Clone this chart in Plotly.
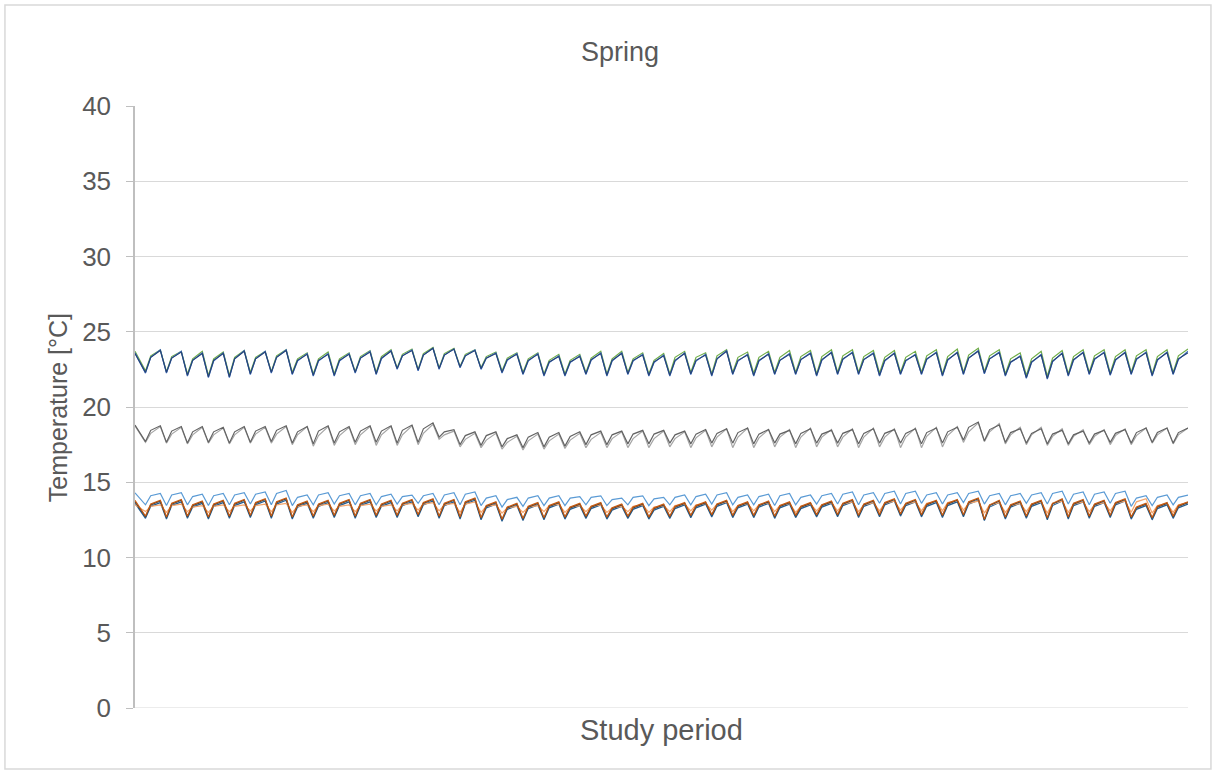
import plotly.graph_objects as go

# ---------------- data ----------------
N_DAYS = 50
# sample times (hours): start sample, then per day: minimum (early morning),
# a mid-day sample, and the maximum (end of day)
start_hour = -5
min_hour = 7
mid_hour = 13
max_hour = 24

top_green_start = 23.7
top_green_min = [22.4, 22.35, 22.2, 22.1, 22.1, 22.3, 22.35, 22.3, 22.2, 22.2,
                 22.35, 22.3, 22.6, 22.5, 22.6, 22.7, 22.6, 22.4, 22.3, 22.2,
                 22.2, 22.3, 22.2, 22.3, 22.2, 22.2, 22.3, 22.2, 22.3, 22.25,
                 22.3, 22.3, 22.2, 22.3, 22.3, 22.25, 22.3, 22.3, 22.2, 22.3,
                 22.35, 22.2, 22.1, 22.05, 22.2, 22.3, 22.25, 22.3, 22.2, 22.3]
top_green_mid = [23.4, 23.35, 23.2, 23.2, 23.3, 23.3, 23.4, 23.2, 23.2, 23.2,
                 23.35, 23.35, 23.5, 23.55, 23.55, 23.5, 23.35, 23.25, 23.2, 23.1,
                 23.1, 23.25, 23.2, 23.2, 23.1, 23.3, 23.3, 23.4, 23.3, 23.3,
                 23.3, 23.35, 23.35, 23.4, 23.35, 23.3, 23.3, 23.4, 23.35, 23.45,
                 23.4, 23.2, 23.2, 23.25, 23.35, 23.4, 23.35, 23.4, 23.35, 23.4]
top_green_max = [23.8, 23.7, 23.7, 23.65, 23.75, 23.7, 23.8, 23.6, 23.65, 23.6,
                 23.75, 23.8, 23.85, 23.95, 23.9, 23.8, 23.65, 23.6, 23.6, 23.5,
                 23.5, 23.7, 23.7, 23.6, 23.55, 23.7, 23.6, 23.8, 23.65, 23.7,
                 23.75, 23.75, 23.8, 23.8, 23.75, 23.75, 23.7, 23.8, 23.85, 23.9,
                 23.8, 23.6, 23.7, 23.75, 23.8, 23.8, 23.8, 23.8, 23.8, 23.85]

top_blue_start = 23.6
top_blue_min = [22.25, 22.25, 22.05, 21.95, 21.95, 22.15, 22.25, 22.15, 22.05, 22.05,
                22.25, 22.15, 22.5, 22.4, 22.5, 22.6, 22.5, 22.25, 22.15, 22.05,
                22.05, 22.15, 22.05, 22.15, 22.05, 22.05, 22.15, 22.05, 22.15, 22.05,
                22.15, 22.15, 22.05, 22.15, 22.15, 22.05, 22.15, 22.15, 22.05, 22.15,
                22.2, 22.05, 21.9, 21.85, 22.05, 22.15, 22.1, 22.15, 22.05, 22.15]
top_blue_mid = [23.3, 23.25, 23.1, 23.05, 23.2, 23.2, 23.3, 23.05, 23.05, 23.05,
                23.25, 23.2, 23.4, 23.45, 23.45, 23.4, 23.25, 23.1, 23.05, 22.95,
                22.95, 23.1, 23.05, 23.05, 22.95, 23.05, 23.05, 23.2, 23.05, 23.05,
                23.1, 23.15, 23.1, 23.15, 23.15, 23.05, 23.05, 23.15, 23.1, 23.25,
                23.2, 22.95, 22.95, 23.0, 23.1, 23.15, 23.1, 23.15, 23.1, 23.15]
top_blue_max = [23.8, 23.7, 23.6, 23.6, 23.75, 23.7, 23.8, 23.55, 23.55, 23.55,
                23.7, 23.75, 23.8, 23.9, 23.85, 23.8, 23.6, 23.55, 23.55, 23.4,
                23.4, 23.6, 23.6, 23.5, 23.45, 23.6, 23.5, 23.75, 23.5, 23.55,
                23.55, 23.6, 23.65, 23.65, 23.6, 23.6, 23.5, 23.65, 23.65, 23.75,
                23.65, 23.4, 23.5, 23.6, 23.65, 23.65, 23.65, 23.65, 23.65, 23.7]

top_navy_start = 23.55
top_navy_min = [22.3, 22.3, 22.1, 22.0, 22.0, 22.2, 22.3, 22.2, 22.1, 22.1,
                22.3, 22.2, 22.55, 22.45, 22.55, 22.65, 22.55, 22.3, 22.2, 22.1,
                22.1, 22.2, 22.1, 22.2, 22.1, 22.1, 22.2, 22.1, 22.2, 22.1,
                22.2, 22.2, 22.1, 22.2, 22.2, 22.1, 22.2, 22.2, 22.1, 22.2,
                22.25, 22.1, 21.95, 21.9, 22.1, 22.2, 22.15, 22.2, 22.1, 22.2]
top_navy_mid = [23.3, 23.25, 23.1, 23.1, 23.2, 23.2, 23.3, 23.1, 23.1, 23.1,
                23.25, 23.25, 23.4, 23.45, 23.45, 23.4, 23.25, 23.15, 23.1, 23.0,
                23.0, 23.15, 23.1, 23.1, 23.0, 23.1, 23.1, 23.2, 23.1, 23.1,
                23.1, 23.15, 23.15, 23.2, 23.15, 23.1, 23.1, 23.2, 23.15, 23.25,
                23.2, 23.0, 23.0, 23.05, 23.15, 23.2, 23.15, 23.2, 23.15, 23.2]
top_navy_max = [23.75, 23.65, 23.55, 23.55, 23.7, 23.65, 23.75, 23.5, 23.5, 23.5,
                23.65, 23.7, 23.75, 23.9, 23.85, 23.75, 23.55, 23.5, 23.5, 23.35,
                23.35, 23.55, 23.55, 23.45, 23.4, 23.55, 23.45, 23.7, 23.45, 23.5,
                23.5, 23.55, 23.6, 23.6, 23.55, 23.55, 23.45, 23.6, 23.6, 23.7,
                23.6, 23.35, 23.45, 23.55, 23.6, 23.6, 23.6, 23.6, 23.6, 23.6]

mid_light_start = 18.75
mid_light_min = [17.65, 17.6, 17.55, 17.6, 17.55, 17.6, 17.6, 17.5, 17.4, 17.45,
                 17.5, 17.45, 17.45, 17.5, 17.85, 17.35, 17.3, 17.2, 17.15, 17.2,
                 17.25, 17.3, 17.3, 17.3, 17.3, 17.35, 17.3, 17.35, 17.3, 17.3,
                 17.35, 17.3, 17.35, 17.35, 17.3, 17.35, 17.3, 17.3, 17.35, 17.65,
                 17.7, 17.55, 17.5, 17.45, 17.45, 17.5, 17.5, 17.5, 17.6, 17.55]
mid_light_mid = [18.25, 18.2, 18.15, 18.15, 18.15, 18.2, 18.2, 18.15, 18.1, 18.1,
                 18.15, 18.15, 18.15, 18.25, 18.15, 17.85, 17.8, 17.65, 17.75, 17.75,
                 17.8, 17.85, 17.9, 17.9, 17.9, 17.9, 17.95, 18.0, 18.0, 17.95,
                 18.0, 18.0, 18.0, 18.0, 18.0, 18.0, 18.0, 18.05, 18.1, 18.35,
                 18.35, 18.15, 18.15, 18.05, 18.05, 18.05, 18.1, 18.1, 18.15, 18.15]
mid_light_max = [18.7, 18.65, 18.65, 18.6, 18.65, 18.65, 18.7, 18.7, 18.7, 18.65,
                 18.7, 18.7, 18.75, 18.85, 18.4, 18.25, 18.25, 18.05, 18.2, 18.2,
                 18.25, 18.3, 18.35, 18.4, 18.4, 18.35, 18.45, 18.55, 18.6, 18.5,
                 18.5, 18.6, 18.5, 18.55, 18.6, 18.55, 18.6, 18.65, 18.7, 18.95,
                 18.9, 18.65, 18.65, 18.55, 18.5, 18.5, 18.55, 18.6, 18.6, 18.6]

mid_dark_start = 18.8
mid_dark_min = [17.7, 17.65, 17.6, 17.65, 17.6, 17.65, 17.7, 17.6, 17.55, 17.6,
                17.65, 17.65, 17.6, 17.65, 18.0, 17.5, 17.45, 17.35, 17.3, 17.35,
                17.4, 17.5, 17.5, 17.55, 17.55, 17.6, 17.55, 17.6, 17.6, 17.55,
                17.6, 17.55, 17.6, 17.6, 17.55, 17.6, 17.6, 17.55, 17.6, 17.8,
                17.75, 17.65, 17.6, 17.55, 17.55, 17.6, 17.65, 17.6, 17.65, 17.6]
mid_dark_mid = [18.45, 18.4, 18.35, 18.35, 18.35, 18.4, 18.45, 18.35, 18.4, 18.35,
                18.4, 18.4, 18.45, 18.55, 18.35, 18.1, 18.1, 17.9, 18.0, 18.0,
                18.05, 18.15, 18.15, 18.2, 18.2, 18.15, 18.2, 18.25, 18.3, 18.2,
                18.2, 18.25, 18.2, 18.25, 18.25, 18.25, 18.25, 18.3, 18.35, 18.65,
                18.5, 18.3, 18.25, 18.2, 18.15, 18.2, 18.25, 18.3, 18.3, 18.3]
mid_dark_max = [18.75, 18.7, 18.7, 18.65, 18.7, 18.7, 18.75, 18.7, 18.75, 18.7,
                18.75, 18.75, 18.8, 18.95, 18.5, 18.35, 18.35, 18.15, 18.3, 18.3,
                18.35, 18.4, 18.4, 18.45, 18.45, 18.4, 18.5, 18.55, 18.6, 18.5,
                18.45, 18.55, 18.45, 18.5, 18.55, 18.5, 18.55, 18.6, 18.65, 19.0,
                18.8, 18.55, 18.55, 18.45, 18.4, 18.45, 18.5, 18.6, 18.6, 18.6]

low_lightblue_start = 14.3
low_lightblue_min = [13.5, 13.45, 13.5, 13.45, 13.5, 13.55, 13.5, 13.45, 13.5, 13.55,
                     13.5, 13.5, 13.55, 13.6, 13.5, 13.5, 13.45, 13.35, 13.4, 13.45,
                     13.45, 13.5, 13.45, 13.5, 13.45, 13.5, 13.5, 13.55, 13.5, 13.5,
                     13.45, 13.5, 13.55, 13.55, 13.5, 13.6, 13.55, 13.6, 13.55, 13.65,
                     13.55, 13.5, 13.6, 13.55, 13.55, 13.5, 13.6, 13.4, 13.45, 13.5]
low_lightblue_mid = [14.1, 14.15, 14.05, 14.1, 14.15, 14.2, 14.25, 14.0, 14.15, 14.1,
                     14.1, 14.05, 14.05, 14.1, 14.15, 14.2, 13.95, 13.85, 13.95, 13.95,
                     13.95, 14.0, 13.85, 14.0, 13.9, 14.0, 14.05, 14.15, 14.0, 14.05,
                     14.1, 14.0, 14.1, 14.2, 14.15, 14.25, 14.25, 14.15, 14.15, 14.25,
                     14.1, 14.1, 14.15, 14.25, 14.2, 14.2, 14.25, 13.95, 14.0, 14.0]
low_lightblue_max = [14.25, 14.3, 14.2, 14.25, 14.3, 14.35, 14.45, 14.15, 14.3, 14.25,
                     14.25, 14.2, 14.15, 14.25, 14.3, 14.35, 14.1, 14.0, 14.1, 14.1,
                     14.05, 14.1, 13.95, 14.1, 14.0, 14.15, 14.2, 14.3, 14.15, 14.2,
                     14.25, 14.15, 14.25, 14.35, 14.3, 14.4, 14.4, 14.3, 14.3, 14.4,
                     14.25, 14.25, 14.3, 14.4, 14.35, 14.35, 14.4, 14.1, 14.15, 14.15]

low_darkblue_start = 13.6
low_darkblue_min = [12.6, 12.55, 12.6, 12.55, 12.6, 12.65, 12.6, 12.55, 12.6, 12.65,
                    12.6, 12.65, 12.65, 12.7, 12.6, 12.55, 12.5, 12.4, 12.45, 12.5,
                    12.55, 12.6, 12.55, 12.6, 12.55, 12.6, 12.65, 12.7, 12.65, 12.65,
                    12.6, 12.65, 12.7, 12.7, 12.65, 12.7, 12.75, 12.7, 12.65, 12.7,
                    12.45, 12.55, 12.6, 12.5, 12.55, 12.6, 12.65, 12.55, 12.5, 12.6]
low_darkblue_mid = [13.4, 13.45, 13.35, 13.4, 13.45, 13.5, 13.55, 13.35, 13.4, 13.45,
                    13.45, 13.4, 13.45, 13.5, 13.45, 13.55, 13.3, 13.2, 13.25, 13.3,
                    13.2, 13.25, 13.15, 13.2, 13.15, 13.25, 13.3, 13.4, 13.3, 13.35,
                    13.3, 13.25, 13.35, 13.45, 13.4, 13.5, 13.45, 13.4, 13.45, 13.55,
                    13.35, 13.35, 13.4, 13.45, 13.45, 13.4, 13.5, 13.2, 13.25, 13.3]
low_darkblue_max = [13.65, 13.7, 13.6, 13.65, 13.7, 13.75, 13.8, 13.6, 13.65, 13.7,
                    13.7, 13.65, 13.7, 13.75, 13.7, 13.8, 13.55, 13.45, 13.5, 13.55,
                    13.45, 13.5, 13.4, 13.45, 13.4, 13.5, 13.55, 13.65, 13.55, 13.6,
                    13.55, 13.5, 13.6, 13.7, 13.65, 13.75, 13.7, 13.65, 13.7, 13.8,
                    13.65, 13.6, 13.65, 13.75, 13.7, 13.65, 13.75, 13.45, 13.5, 13.55]

low_lightorange_start = 13.5
low_lightorange_min = [13.05, 13.0, 13.05, 13.0, 13.05, 13.1, 13.05, 13.0, 13.05, 13.1,
                       13.05, 13.1, 13.1, 13.15, 13.1, 13.0, 13.0, 12.95, 13.0, 13.05,
                       13.0, 13.05, 13.0, 13.05, 13.0, 13.05, 13.1, 13.15, 13.05, 13.1,
                       13.05, 13.0, 13.1, 13.1, 13.05, 13.1, 13.15, 13.1, 13.1, 13.15,
                       12.95, 13.0, 13.05, 12.95, 13.0, 13.05, 13.1, 13.0, 12.95, 13.0]
low_lightorange_mid = [13.4, 13.45, 13.35, 13.4, 13.4, 13.45, 13.5, 13.4, 13.45, 13.4,
                       13.45, 13.4, 13.5, 13.55, 13.5, 13.55, 13.4, 13.3, 13.35, 13.45,
                       13.35, 13.4, 13.3, 13.4, 13.35, 13.45, 13.5, 13.55, 13.45, 13.5,
                       13.45, 13.4, 13.5, 13.55, 13.5, 13.6, 13.55, 13.6, 13.65, 13.6,
                       13.5, 13.45, 13.55, 13.6, 13.55, 13.5, 13.6, 13.7, 13.45, 13.5]
low_lightorange_max = [13.5, 13.55, 13.45, 13.5, 13.5, 13.55, 13.6, 13.5, 13.55, 13.5,
                       13.55, 13.5, 13.6, 13.65, 13.6, 13.7, 13.5, 13.4, 13.45, 13.55,
                       13.45, 13.5, 13.4, 13.5, 13.45, 13.55, 13.6, 13.7, 13.6, 13.65,
                       13.6, 13.55, 13.65, 13.7, 13.65, 13.75, 13.7, 13.75, 13.8, 13.75,
                       13.65, 13.6, 13.7, 13.75, 13.7, 13.65, 13.75, 13.9, 13.6, 13.65]

low_darkgray_start = 13.7
low_darkgray_min = [12.7, 12.65, 12.7, 12.65, 12.7, 12.75, 12.7, 12.65, 12.7, 12.75,
                    12.7, 12.75, 12.75, 12.8, 12.7, 12.65, 12.6, 12.5, 12.55, 12.6,
                    12.65, 12.7, 12.65, 12.7, 12.65, 12.7, 12.75, 12.8, 12.75, 12.75,
                    12.7, 12.75, 12.8, 12.8, 12.75, 12.8, 12.85, 12.8, 12.75, 12.8,
                    12.5, 12.65, 12.7, 12.6, 12.65, 12.7, 12.75, 12.65, 12.6, 12.7]
low_darkgray_mid = [13.5, 13.55, 13.45, 13.5, 13.55, 13.6, 13.65, 13.45, 13.5, 13.55,
                    13.55, 13.5, 13.55, 13.6, 13.55, 13.65, 13.4, 13.3, 13.35, 13.4,
                    13.3, 13.35, 13.25, 13.3, 13.25, 13.35, 13.4, 13.5, 13.4, 13.45,
                    13.4, 13.35, 13.45, 13.55, 13.5, 13.6, 13.55, 13.5, 13.55, 13.65,
                    13.45, 13.45, 13.5, 13.55, 13.55, 13.5, 13.6, 13.3, 13.35, 13.4]
low_darkgray_max = [13.75, 13.8, 13.7, 13.75, 13.8, 13.85, 13.9, 13.7, 13.75, 13.8,
                    13.8, 13.75, 13.8, 13.85, 13.8, 13.9, 13.65, 13.55, 13.6, 13.65,
                    13.55, 13.6, 13.5, 13.55, 13.5, 13.6, 13.65, 13.75, 13.65, 13.7,
                    13.65, 13.6, 13.7, 13.8, 13.75, 13.85, 13.8, 13.75, 13.8, 13.9,
                    13.75, 13.7, 13.75, 13.85, 13.8, 13.75, 13.85, 13.55, 13.6, 13.65]

low_darkorange_start = 13.8
low_darkorange_min = [12.75, 12.7, 12.75, 12.7, 12.75, 12.8, 12.75, 12.7, 12.75, 12.8,
                      12.75, 12.8, 12.8, 12.85, 12.75, 12.7, 12.65, 12.55, 12.6, 12.65,
                      12.7, 12.75, 12.7, 12.75, 12.7, 12.75, 12.8, 12.85, 12.8, 12.8,
                      12.75, 12.8, 12.85, 12.85, 12.8, 12.85, 12.9, 12.85, 12.8, 12.85,
                      12.55, 12.7, 12.75, 12.65, 12.7, 12.75, 12.8, 12.7, 12.65, 12.75]
low_darkorange_mid = [13.55, 13.6, 13.5, 13.55, 13.6, 13.65, 13.7, 13.5, 13.55, 13.6,
                      13.6, 13.55, 13.6, 13.65, 13.6, 13.7, 13.45, 13.35, 13.4, 13.45,
                      13.35, 13.4, 13.3, 13.35, 13.3, 13.4, 13.45, 13.55, 13.45, 13.5,
                      13.45, 13.4, 13.5, 13.6, 13.55, 13.65, 13.6, 13.55, 13.6, 13.7,
                      13.5, 13.5, 13.55, 13.6, 13.6, 13.55, 13.65, 13.35, 13.4, 13.45]
low_darkorange_max = [13.8, 13.85, 13.75, 13.8, 13.85, 13.9, 13.95, 13.75, 13.8, 13.85,
                      13.85, 13.8, 13.85, 13.9, 13.85, 13.95, 13.7, 13.6, 13.65, 13.7,
                      13.6, 13.65, 13.55, 13.6, 13.55, 13.65, 13.7, 13.8, 13.7, 13.75,
                      13.7, 13.65, 13.75, 13.85, 13.8, 13.9, 13.85, 13.8, 13.85, 13.95,
                      13.8, 13.75, 13.8, 13.9, 13.85, 13.8, 13.9, 13.6, 13.65, 13.7]

series = [
    ("Top 1", "#70AD47", top_green_start, top_green_min, top_green_mid, top_green_max),
    ("Top 2", "#4472C4", top_blue_start, top_blue_min, top_blue_mid, top_blue_max),
    ("Top 3", "#264478", top_navy_start, top_navy_min, top_navy_mid, top_navy_max),
    ("Mid 1", "#A5A5A5", mid_light_start, mid_light_min, mid_light_mid, mid_light_max),
    ("Mid 2", "#636363", mid_dark_start, mid_dark_min, mid_dark_mid, mid_dark_max),
    ("Low 1", "#5B9BD5", low_lightblue_start, low_lightblue_min, low_lightblue_mid, low_lightblue_max),
    ("Low 2", "#255E91", low_darkblue_start, low_darkblue_min, low_darkblue_mid, low_darkblue_max),
    ("Low 3", "#F4A46A", low_lightorange_start, low_lightorange_min, low_lightorange_mid, low_lightorange_max),
    ("Low 4", "#404040", low_darkgray_start, low_darkgray_min, low_darkgray_mid, low_darkgray_max),
    ("Low 5", "#C55A11", low_darkorange_start, low_darkorange_min, low_darkorange_mid, low_darkorange_max),
]

# ---------------- figure ----------------
times = [start_hour]
for d in range(N_DAYS):
    times += [d * 24 + min_hour, d * 24 + mid_hour, d * 24 + max_hour]

fig = go.Figure()
for name, color, s, mins, mids, maxs in series:
    ys = [s]
    for a, m, b in zip(mins, mids, maxs):
        ys += [a, m, b]
    fig.add_trace(go.Scatter(x=times, y=ys, mode="lines", name=name,
                             line=dict(color=color, width=1.2), showlegend=False))

TXT = "#595959"
FONT = "Liberation Sans, Arial, sans-serif"
fig.update_layout(
    width=1216, height=774,
    margin=dict(l=135, r=28, t=106, b=66),
    paper_bgcolor="white", plot_bgcolor="white",
    font=dict(family=FONT, color=TXT),
    showlegend=False,
    xaxis=dict(range=[start_hour, N_DAYS * 24], showgrid=False, zeroline=False,
               showticklabels=False, ticks="", showline=False),
    yaxis=dict(range=[0, 40], dtick=5, tick0=0, showgrid=True, gridcolor="#D9D9D9",
               gridwidth=1, zeroline=False, showline=True, linecolor="#BFBFBF",
               linewidth=1.5, ticks="outside", ticklen=7, tickcolor="#BFBFBF",
               tickfont=dict(family=FONT, size=26, color=TXT), ticklabelstandoff=10),
    annotations=[
        dict(text="Spring", xref="paper", yref="paper", x=0.4606, y=1.0897,
             showarrow=False, font=dict(family=FONT, size=27, color=TXT),
             xanchor="center", yanchor="middle"),
        dict(text="Temperature [°C]", xref="paper", yref="paper", x=-0.0731, y=0.498,
             showarrow=False, textangle=-90, font=dict(family=FONT, size=25, color=TXT),
             xanchor="center", yanchor="middle"),
        dict(text="Study period", xref="paper", yref="paper", x=0.5, y=-0.0365,
             showarrow=False, font=dict(family=FONT, size=29, color=TXT),
             xanchor="center", yanchor="middle"),
    ],
    shapes=[
        dict(type="rect", xref="paper", yref="paper", x0=-0.1235, x1=1.0218,
             y0=-0.1013, y1=1.1678, line=dict(color="#D9D9D9", width=1.5),
             fillcolor="rgba(0,0,0,0)", layer="below"),
        dict(type="line", xref="paper", yref="y", x0=0, x1=1, y0=0, y1=0,
             line=dict(color="#D9D9D9", width=1)),
    ],
)

fig.write_html("out.html")
